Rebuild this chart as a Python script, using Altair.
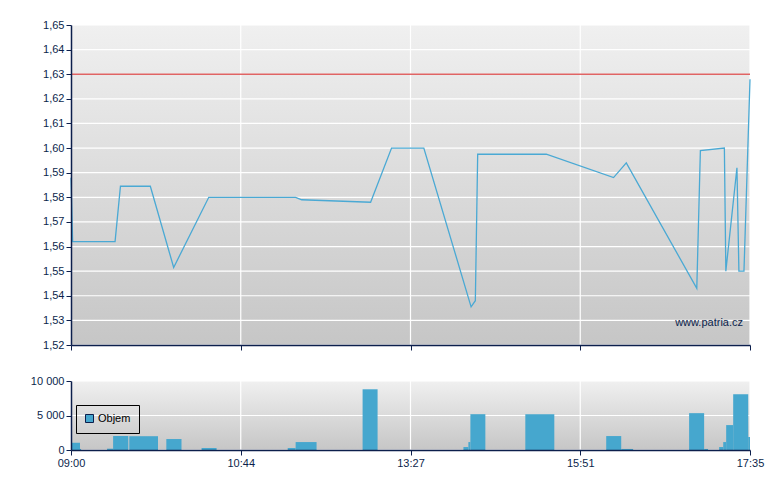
import altair as alt
import pandas as pd

# ---- data (minutes after 09:00) ----
price_time = [0, 1, 27, 30.3, 48.6, 62.9, 84.4, 156.7, 162.5, 228.7, 248.8, 278.3, 318.4,
              322, 324, 382.2, 431.4, 439.2, 482.4, 484.6, 499.3, 500.2, 507, 508.2, 511.3, 515]
price = [1.588, 1.562, 1.562, 1.5845, 1.5845, 1.5515, 1.580, 1.580, 1.579, 1.578, 1.600, 1.600,
         1.5355, 1.538, 1.5975, 1.5975, 1.588, 1.594, 1.543, 1.599, 1.600, 1.550, 1.592, 1.550,
         1.550, 1.628]
ref_price = [1.63]

vol_start = [0, 5.5, 22.1, 25.8, 35.7, 58.4, 80, 149.1, 156.7, 221, 311.9, 316.1, 317.8, 364.4,
             426.9, 436.1, 477.7, 486.9, 496.1, 498.6, 500.4, 504.7, 513.9]
vol_end = [5.5, 6.2, 25.8, 35.1, 53.3, 67.7, 89.2, 156.7, 176.8, 235.4, 316.1, 317.8, 330.5, 389,
           436.1, 443.4, 486.9, 489.3, 498.6, 500.4, 504.7, 513.9, 515]
volume = [1050, 150, 190, 2040, 2000, 1590, 290, 290, 1150, 8800, 430, 1150, 5190, 5190, 2020,
          150, 5340, 150, 430, 1150, 3610, 8080, 1880]

tick_vals = [0, 104, 267, 411, 515]
tick_labels = ["09:00", "10:44", "13:27", "15:51", "17:35"]
price_ticks = [1.52, 1.53, 1.54, 1.55, 1.56, 1.57, 1.58, 1.59, 1.60, 1.61, 1.62, 1.63, 1.64, 1.65]
vol_ticks = [0, 5000, 10000]

W, H1, H2 = 679, 320, 69
NAVY = "#0c1f4c"
FONT = "Liberation Sans"

price_df = pd.DataFrame({"t": price_time, "p": price})
ref_df = pd.DataFrame({"p": ref_price})
vol_df = pd.DataFrame({"t": vol_start, "t1": vol_end, "v": volume, "s": ["Objem"] * len(volume)})
xt_df = pd.DataFrame({"t": tick_vals})
pt_df = pd.DataFrame({"p": price_ticks})
vt_df = pd.DataFrame({"v": vol_ticks})
one = pd.DataFrame({"a": [0]})

label_expr = ""
for v, l in zip(tick_vals, tick_labels):
    label_expr += f"datum.value == {v} ? '{l}' : "
label_expr += "''"

xscale = alt.Scale(domain=tick_vals, range=[0, W / 4, W / 2, 3 * W / 4, W], zero=False, nice=False)
pscale = alt.Scale(domain=[1.52, 1.65], zero=False, nice=False)
vscale = alt.Scale(domain=[0, 10000], zero=True, nice=False)

axis_common = dict(domainColor=NAVY, tickColor=NAVY, labelColor=NAVY, labelFont=FONT,
                   labelFontSize=11, tickSize=5, grid=False, domainWidth=1.5,
                   labelPadding=2, zindex=2, title=None)

top_x_axis = alt.Axis(values=tick_vals, labels=False, orient="bottom", **axis_common)
top_y_axis = alt.Axis(values=price_ticks, orient="left",
                      labelExpr="replace(format(datum.value, '.2f'), '.', ',')", **axis_common)
bot_x_axis = alt.Axis(values=tick_vals, labelExpr=label_expr, labelFlush=False,
                      orient="bottom", **axis_common)
bot_y_axis = alt.Axis(values=vol_ticks, orient="left",
                      labelExpr="replace(format(datum.value, ','), ',', ' ')", **axis_common)

grad = alt.LinearGradient(gradient="linear", x1=0, y1=0, x2=0, y2=1,
                          stops=[alt.GradientStop(color="#f0f0f0", offset=0),
                                 alt.GradientStop(color="#c6c6c6", offset=1)])


def background(h):
    return alt.Chart(one).mark_rect(color=grad).encode(
        x=alt.value(0), x2=alt.value(W), y=alt.value(0), y2=alt.value(h))


# ---- top: price ----
top_bg = background(H1)
top_hgrid = alt.Chart(pt_df).mark_rule(color="white", strokeWidth=1.2).encode(
    y=alt.Y("p:Q", scale=pscale, axis=top_y_axis, title=None))
top_vgrid = alt.Chart(xt_df).mark_rule(color="white", strokeWidth=1.2).encode(
    x=alt.X("t:Q", scale=xscale, axis=top_x_axis, title=None))
ref_line = alt.Chart(ref_df).mark_rule(color="#e06464", strokeWidth=1.3).encode(
    y=alt.Y("p:Q", scale=pscale, axis=top_y_axis, title=None))
price_line = alt.Chart(price_df).mark_line(color="#4aa9d4", strokeWidth=1.3).encode(
    x=alt.X("t:Q", scale=xscale, axis=top_x_axis, title=None),
    y=alt.Y("p:Q", scale=pscale, axis=top_y_axis, title=None))
watermark = alt.Chart(one).mark_text(text="www.patria.cz", align="right", baseline="middle",
                                     font=FONT, fontSize=11, color=NAVY).encode(
    x=alt.value(W - 7), y=alt.value(H1 - 22))

top = alt.layer(top_bg, top_hgrid, top_vgrid, ref_line, price_line, watermark).properties(
    width=W, height=H1)

# ---- bottom: volume ----
bot_bg = background(H2)
bot_hgrid = alt.Chart(vt_df).mark_rule(color="white", strokeWidth=1.2).encode(
    y=alt.Y("v:Q", scale=vscale, axis=bot_y_axis, title=None))
bot_vgrid = alt.Chart(xt_df).mark_rule(color="white", strokeWidth=1.2).encode(
    x=alt.X("t:Q", scale=xscale, axis=bot_x_axis, title=None))
bars = alt.Chart(vol_df).mark_rect().encode(
    x=alt.X("t:Q", scale=xscale, axis=bot_x_axis, title=None),
    x2="t1:Q",
    y=alt.Y("v:Q", scale=vscale, axis=bot_y_axis, title=None),
    y2=alt.Y2Datum(0),
    color=alt.Color("s:N", scale=alt.Scale(domain=["Objem"], range=["#46a7ce"]),
                    legend=alt.Legend(title=None, orient="none", legendX=5, legendY=380,
                                      symbolType="square", symbolSize=64,
                                      symbolStrokeColor=NAVY, symbolStrokeWidth=1,
                                      symbolOpacity=1,
                                      labelFont=FONT, labelFontSize=11, labelColor="#000000",
                                      strokeColor="#000000", padding=8, cornerRadius=0,
                                      labelOffset=3)))

bottom = alt.layer(bot_bg, bot_hgrid, bot_vgrid, bars).properties(width=W, height=H2)

chart = alt.vconcat(top, bottom, spacing=24).properties(
    padding={"left": 22, "top": 11, "right": 5, "bottom": 5}
).configure_view(stroke=None)

chart.save("out.html", embed_options={"renderer": "svg", "actions": False})
